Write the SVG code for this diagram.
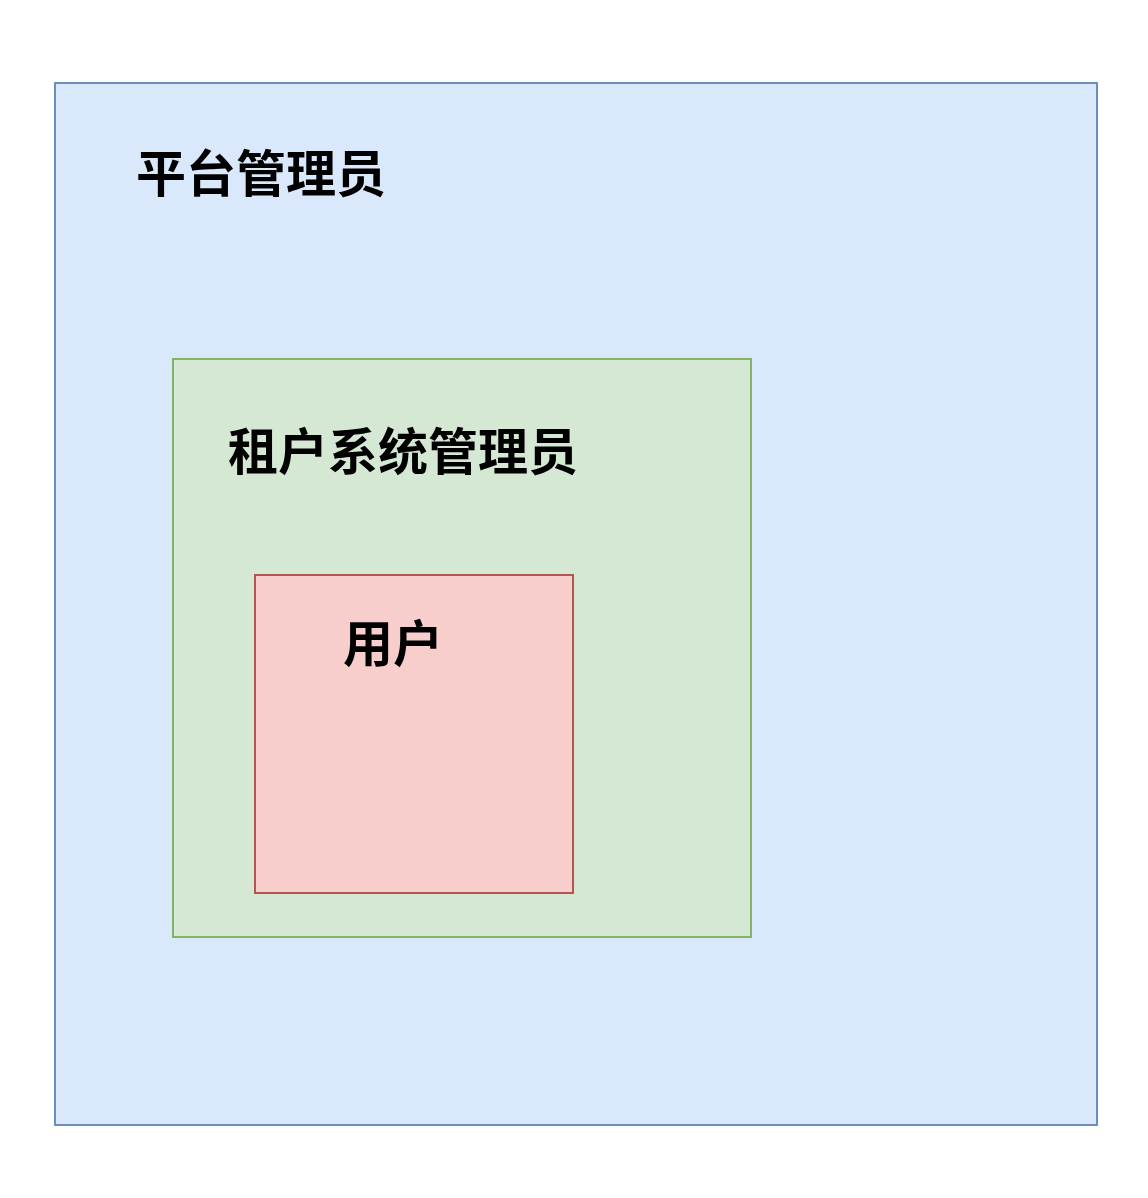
<svg xmlns="http://www.w3.org/2000/svg" width="1148" height="1198" viewBox="0 0 1148 1198">
<style>
.lbl{font-family:"Noto Sans CJK SC","Noto Sans",sans-serif;font-size:50px;font-weight:bold;fill:#000}
</style>
<rect width="1148" height="1198" fill="#fff"/>
<g id="platform-admin">
<rect x="55" y="83" width="1042" height="1042" fill="#dae8fc" stroke="#6c8ebf" stroke-width="2"/>
<text class="lbl" x="136" y="192">平台管理员</text>
</g>
<g id="tenant-admin">
<rect x="173" y="359" width="578" height="578" fill="#d5e8d4" stroke="#82b366" stroke-width="2"/>
<text class="lbl" x="228" y="470">租户系统管理员</text>
</g>
<g id="user">
<rect x="255" y="575" width="318" height="318" fill="#f8cecc" stroke="#b85450" stroke-width="2"/>
<text class="lbl" x="343" y="662">用户</text>
</g>
<g id="connectors"></g>
</svg>
